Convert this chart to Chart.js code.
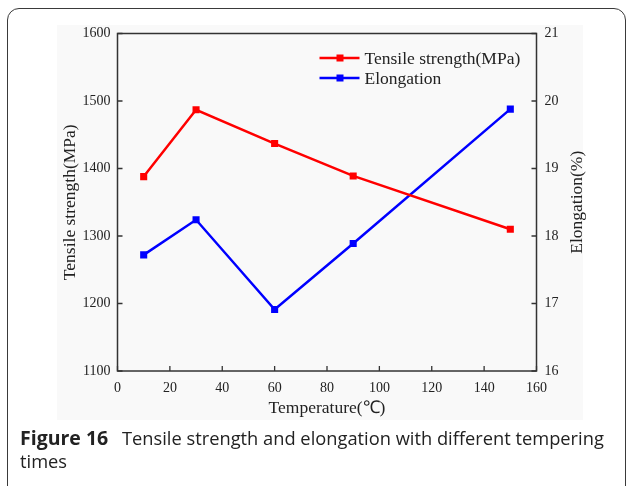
<!DOCTYPE html>
<html>
<head>
<meta charset="utf-8">
<script src="https://cdn.jsdelivr.net/npm/chart.js@4/dist/chart.umd.min.js"></script>
<style>
  html, body { margin: 0; padding: 0; background: #fff; }
  body { width: 627px; height: 486px; position: relative; overflow: hidden; }
  #frame { position: absolute; left: 7px; top: 8px; width: 619px; height: 520px;
           border: 1.4px solid #3a3a3a; border-radius: 12px; box-sizing: border-box; }
  #plotbg { position: absolute; left: 57px; top: 25px; width: 526px; height: 395px; background: #f9f9f9; }
  #chart { position: absolute; left: 0; top: 0; }
  #caption { position: absolute; left: 20px; top: 426px; width: 600px;
             font-family: "Open Sans", sans-serif; font-size: 18.3px; line-height: 23px; color: #222; }
  #caption b { font-weight: 700; font-size: 19.5px; margin-right: 9px; }
</style>
</head>
<body>
<div id="frame"></div>
<div id="plotbg"></div>
<canvas id="chart" width="627" height="486"></canvas>
<div id="caption"><b>Figure 16</b> Tensile strength and elongation with different tempering times</div>
<script>
// temperature (°C) and the two measured properties
const temperature = [10, 30, 60, 90, 150];
const tensileStrength = [1388, 1487, 1437, 1389, 1310];
const elongation = [17.72, 18.24, 16.91, 17.89, 19.88];
const seriesNames = ['Tensile strength(MPa)', 'Elongation'];
const xTicks = { min: 0, max: 160, step: 20 };
const leftTicks = { min: 1100, max: 1600, step: 100 };
const rightTicks = { min: 16, max: 21, step: 1 };

const serif = 'Liberation Serif';
const ink = '#222';
const titleSize = 17.5;

function points(ys) {
  return temperature.map((t, i) => ({ x: t, y: ys[i] }));
}

// box, inward tick marks, right title and legend
const decorations = {
  id: 'decorations',
  afterDraw(chart) {
    const ctx = chart.ctx;
    const a = chart.chartArea;
    ctx.save();
    ctx.strokeStyle = '#333';
    ctx.lineWidth = 1.5;
    ctx.strokeRect(a.left, a.top, a.right - a.left, a.bottom - a.top);

    const len = 5;
    ctx.lineWidth = 1.3;
    ctx.beginPath();
    chart.scales.x.ticks.forEach(t => {
      const px = chart.scales.x.getPixelForValue(t.value);
      ctx.moveTo(px, a.bottom); ctx.lineTo(px, a.bottom - len);
    });
    chart.scales.y.ticks.forEach(t => {
      const py = chart.scales.y.getPixelForValue(t.value);
      ctx.moveTo(a.left, py); ctx.lineTo(a.left + len, py);
    });
    chart.scales.y2.ticks.forEach(t => {
      const py = chart.scales.y2.getPixelForValue(t.value);
      ctx.moveTo(a.right, py); ctx.lineTo(a.right - len, py);
    });
    ctx.stroke();

    // right axis title reads bottom to top
    const s2 = chart.scales.y2;
    ctx.fillStyle = ink;
    ctx.font = titleSize + 'px "' + serif + '"';
    ctx.textAlign = 'center';
    ctx.textBaseline = 'middle';
    ctx.translate(s2.right - 14.5, (a.top + a.bottom) / 2);
    ctx.rotate(-Math.PI / 2);
    ctx.fillText('Elongation(%)', 0, 0);
    ctx.setTransform(1, 0, 0, 1, 0, 0);

    // legend
    chart.data.datasets.forEach((ds, i) => {
      const y = a.top + 24.5 + i * 20;
      const x0 = a.left + 202;
      ctx.strokeStyle = ds.borderColor;
      ctx.lineWidth = 2.5;
      ctx.beginPath();
      ctx.moveTo(x0, y); ctx.lineTo(x0 + 40, y);
      ctx.stroke();
      ctx.fillStyle = ds.borderColor;
      ctx.fillRect(x0 + 17, y - 3.5, 7, 7);
      ctx.fillStyle = ink;
      ctx.textAlign = 'left';
      ctx.fillText(ds.label, x0 + 45, y + 1);
    });
    ctx.restore();
  }
};

const tickFont = { family: serif, size: 14 };
const titleFont = { family: serif, size: titleSize };
const plain = v => String(v);

new Chart(document.getElementById('chart'), {
  type: 'line',
  data: {
    datasets: [{
      label: seriesNames[0],
      data: points(tensileStrength),
      yAxisID: 'y',
      borderColor: '#ff0000',
      backgroundColor: '#ff0000',
      borderWidth: 2.5,
      pointStyle: 'rect',
      pointRadius: 5,
      pointBorderWidth: 0
    }, {
      label: seriesNames[1],
      data: points(elongation),
      yAxisID: 'y2',
      borderColor: '#0000ff',
      backgroundColor: '#0000ff',
      borderWidth: 2.5,
      pointStyle: 'rect',
      pointRadius: 5,
      pointBorderWidth: 0
    }]
  },
  options: {
    responsive: false,
    animation: false,
    layout: { padding: { left: 55.5, right: 35.5, top: 33.5, bottom: 63.5 } },
    plugins: { legend: { display: false }, tooltip: { enabled: false } },
    scales: {
      x: {
        type: 'linear', min: xTicks.min, max: xTicks.max,
        grid: { display: false, drawTicks: false },
        border: { display: false },
        ticks: { stepSize: xTicks.step, font: tickFont, color: ink, padding: 9, maxRotation: 0, callback: plain },
        title: { display: true, text: 'Temperature(℃)', font: titleFont, color: ink },
        afterFit(s) { s.height = 51.5; }
      },
      y: {
        position: 'left', min: leftTicks.min, max: leftTicks.max,
        grid: { display: false, drawTicks: false },
        border: { display: false },
        ticks: { stepSize: leftTicks.step, font: tickFont, color: ink, padding: 7, callback: plain },
        title: { display: true, text: 'Tensile strength(MPa)', font: titleFont, color: ink },
        afterFit(s) { s.width = 62; }
      },
      y2: {
        position: 'right', min: rightTicks.min, max: rightTicks.max,
        grid: { display: false, drawTicks: false },
        border: { display: false },
        ticks: { stepSize: rightTicks.step, font: tickFont, color: ink, padding: 8, callback: plain },
        afterFit(s) { s.width = 55; }
      }
    }
  },
  plugins: [decorations]
});
</script>
</body>
</html>
